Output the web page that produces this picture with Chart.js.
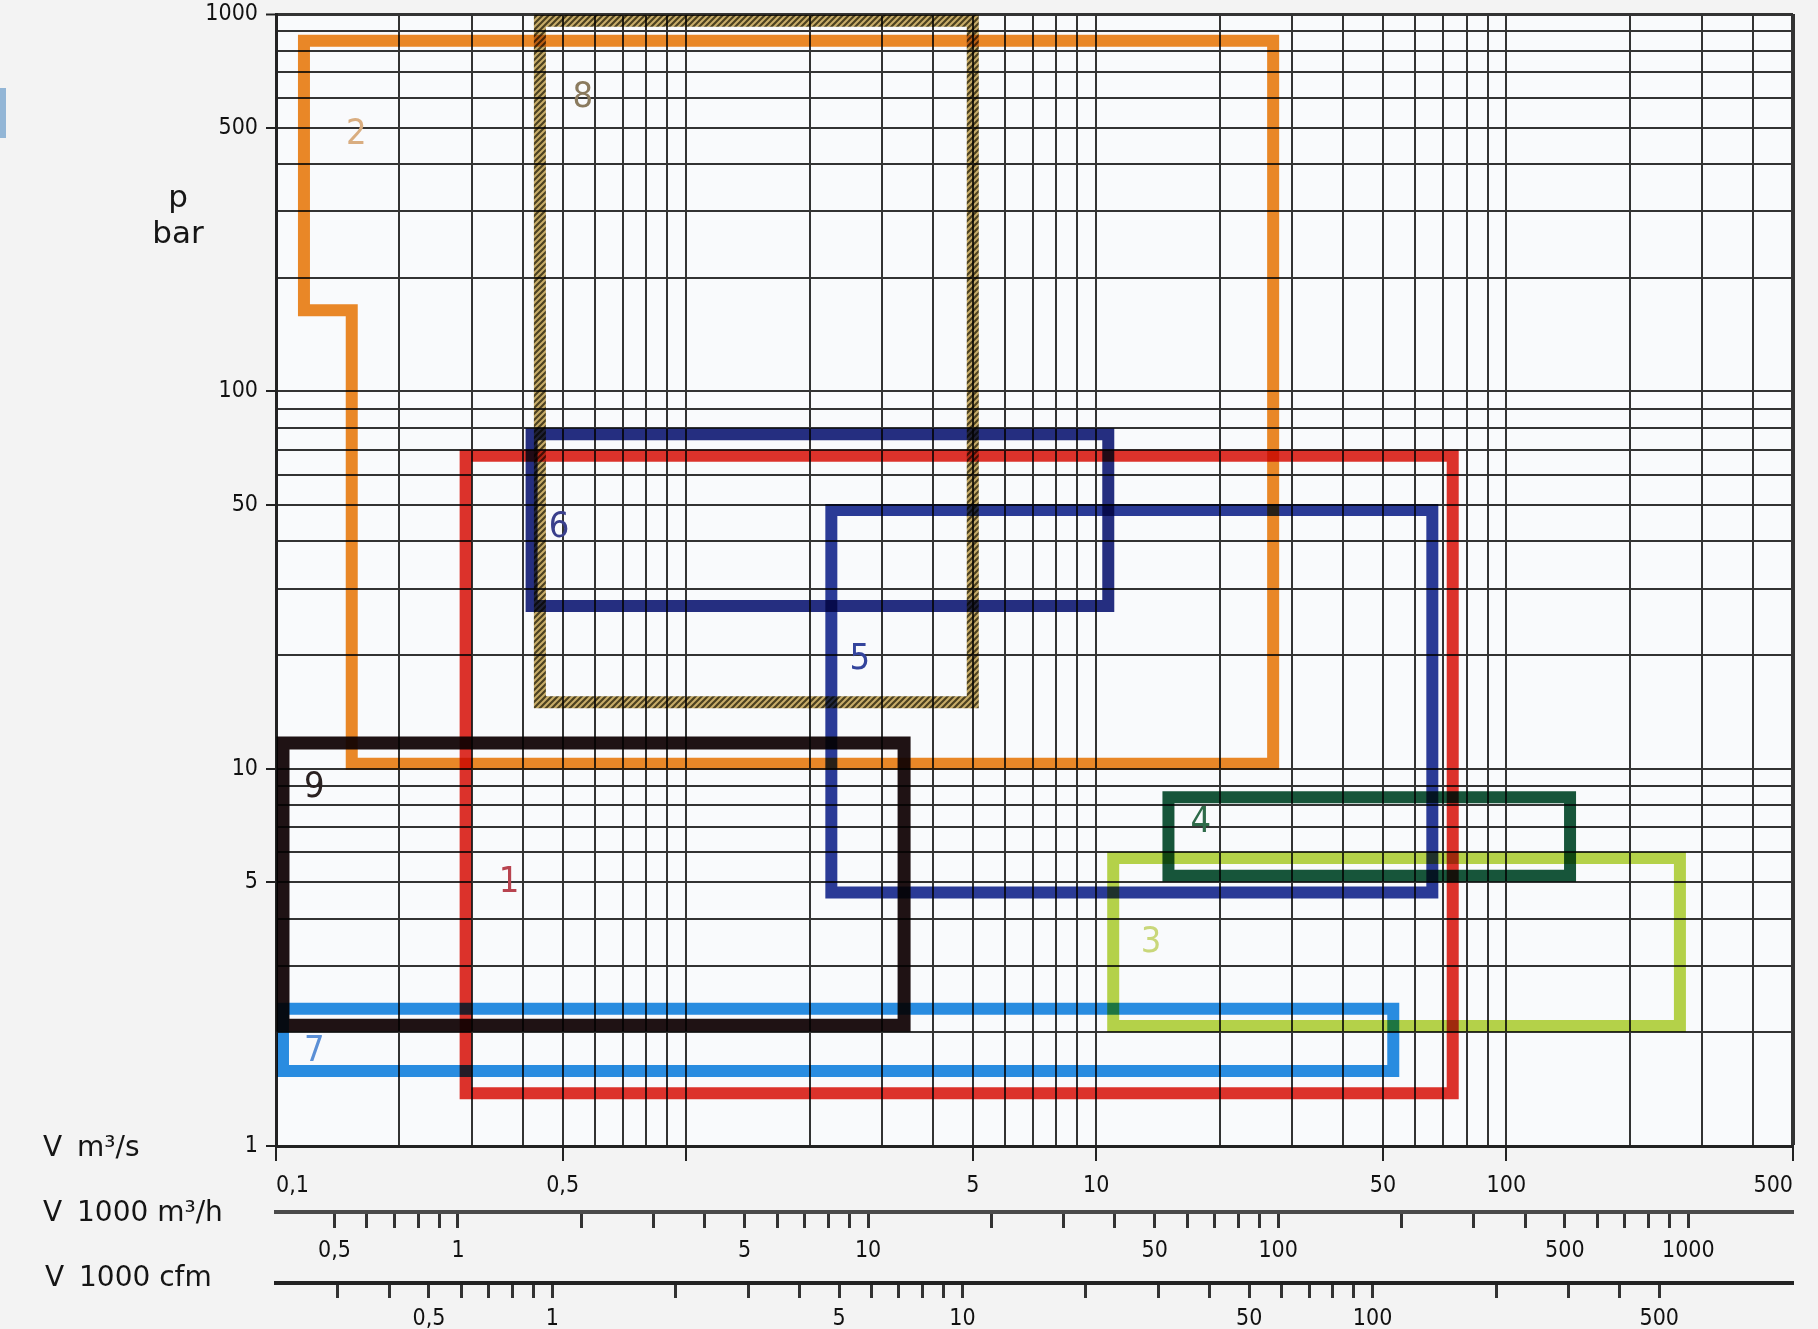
<!DOCTYPE html>
<html>
<head>
<meta charset="utf-8">
<title>Kompressoren – Einsatzbereiche</title>
<script src="https://cdn.jsdelivr.net/npm/chart.js@4.4.1/dist/chart.umd.min.js"></script>
<style>
  html, body { margin: 0; padding: 0; background: #f3f3f3; }
  #wrap { position: relative; width: 1818px; height: 1329px; }
  canvas { display: block; }
  #tab { position: absolute; left: 0; top: 88px; width: 6px; height: 50px; background: #93b6d6; }
</style>
</head>
<body>
<div id="wrap">
  <canvas id="chart" width="1818" height="1329"></canvas>
  <div id="tab"></div>
</div>
<script>
// ---- axis values -------------------------------------------------------
// volume flow in m³/s (main scale, grid lines at every 1..9 step)
const flowTicks = [0.1, 0.2, 0.3, 0.4, 0.5, 0.6, 0.7, 0.8, 0.9,
                   1, 2, 3, 4, 5, 6, 7, 8, 9,
                   10, 20, 30, 40, 50, 60, 70, 80, 90,
                   100, 200, 300, 400, 500];
const flowMarks  = [0.1, 0.5, 1, 5, 10, 50, 100, 500];
const flowLabels = [0.1, 0.5, 5, 10, 50, 100, 500];

// pressure in bar
const pressureTicks = [1, 2, 3, 4, 5, 6, 7, 8, 9,
                       10, 20, 30, 40, 50, 60, 70, 80, 90,
                       100, 200, 300, 400, 500, 600, 700, 800, 900, 1000];
const pressureLabels = [1, 5, 10, 50, 100, 500, 1000];

// volume flow in 1000 m³/h
const m3hTicks = [0.5, 0.6, 0.7, 0.8, 0.9,
                  1, 2, 3, 4, 5, 6, 7, 8, 9,
                  10, 20, 30, 40, 50, 60, 70, 80, 90,
                  100, 200, 300, 400, 500, 600, 700, 800, 900, 1000];
const m3hLabels = [0.5, 1, 5, 10, 50, 100, 500, 1000];

// volume flow in 1000 cfm
const cfmTicks = [0.3, 0.4, 0.5, 0.6, 0.7, 0.8, 0.9,
                  1, 2, 3, 4, 5, 6, 7, 8, 9,
                  10, 20, 30, 40, 50, 60, 70, 80, 90,
                  100, 200, 300, 400, 500];
const cfmLabels = [0.5, 1, 5, 10, 50, 100, 500];

// unit conversions relative to m³/s
const M3H_PER_M3S = 3.6;              // 1000 m³/h per m³/s
const CFM_PER_M3S = 1 / 0.4719474;    // 1000 cfm per m³/s
const FLOW_MIN = 0.1, FLOW_MAX = 500;

// ---- compressor ranges (flow m³/s, pressure bar) ----------------------
const zone1Flow = [0.29, 74];    const zone1Pressure = [1.38, 67.5];
const zone2Flow = [0.117, 0.153, 27]; const zone2Pressure = [10.3, 164, 850];
const zone3Flow = [11, 265];     const zone3Pressure = [2.08, 5.8];
const zone4Flow = [15, 143];     const zone4Pressure = [5.2, 8.4];
const zone5Flow = [2.26, 66];    const zone5Pressure = [4.7, 48.5];
const zone6Flow = [0.42, 10.7];  const zone6Pressure = [27, 77];
const zone7Flow = [0.104, 53];   const zone7Pressure = [1.58, 2.31];
const zone8Flow = [0.44, 5];     const zone8Pressure = [15, 960];
const zone9Flow = [0.104, 3.4];  const zone9Pressure = [2.09, 11.7];

// number tags placed inside each range
const zoneNames     = ['1', '2', '3', '4', '5', '6', '7', '8', '9'];
const labelFlow     = [0.37, 0.157, 13.6, 18, 2.65, 0.49, 0.124, 0.56, 0.124];
const labelPressure = [5.0, 480, 3.45, 7.2, 19.5, 43.5, 1.78, 600, 8.9];
const labelColors   = ['#b8434f', '#d9ad80', '#c9d77a', '#2f6b4a', '#34449c',
                       '#3a3f8c', '#5b8fd6', '#8a7a5e', '#2a2020'];

// ---- helpers ---------------------------------------------------------
const fmt = v => String(v).replace('.', ',');

// closed outline of a rectangle; the first edge is repeated so every corner is mitred
function rectPath(fx, py) {
  const pts = [
    {x: fx[0], y: py[1]}, {x: fx[1], y: py[1]},
    {x: fx[1], y: py[0]}, {x: fx[0], y: py[0]}
  ];
  return pts.concat([pts[0], pts[1]]);
}

// stepped outline of range 2
function stepPath(fx, py) {
  const pts = [
    {x: fx[0], y: py[2]}, {x: fx[2], y: py[2]},
    {x: fx[2], y: py[0]}, {x: fx[1], y: py[0]},
    {x: fx[1], y: py[1]}, {x: fx[0], y: py[1]}
  ];
  return pts.concat([pts[0], pts[1]]);
}

const canvas = document.getElementById('chart');
const ctx = canvas.getContext('2d');

// hatched stroke for range 8
function hatch() {
  const p = document.createElement('canvas');
  p.width = 6; p.height = 6;
  const g = p.getContext('2d');
  g.fillStyle = '#cdb06a';
  g.fillRect(0, 0, 6, 6);
  g.strokeStyle = '#4e4220';
  g.lineWidth = 2.2;
  g.beginPath();
  g.moveTo(0, 6); g.lineTo(6, 0);
  g.moveTo(-3, 3); g.lineTo(3, -3);
  g.moveTo(3, 9); g.lineTo(9, 3);
  g.stroke();
  return ctx.createPattern(p, 'repeat');
}

function band(data, color, width) {
  return {
    data, borderColor: color, borderWidth: width || 12,
    showLine: true, fill: false, tension: 0,
    pointRadius: 0, pointHoverRadius: 0,
    borderJoinStyle: 'miter', borderCapStyle: 'butt'
  };
}

const labelFont = "'Liberation Sans Narrow', 'DejaVu Sans Condensed', 'DejaVu Sans', sans-serif";
const titleFont = "'DejaVu Sans', sans-serif";
const GRID = '#333333';

// ---- plugins -----------------------------------------------------------
const paper = {
  id: 'paper',
  beforeDraw(chart) {
    const {ctx, chartArea: a} = chart;
    ctx.save();
    ctx.fillStyle = '#f9fafc';
    ctx.fillRect(a.left, a.top, a.right - a.left, a.bottom - a.top);
    ctx.restore();
  }
};

// overlapping inks darken each other like print
const inkBlend = {
  id: 'inkBlend',
  beforeDatasetsDraw(chart) { chart.ctx.save(); chart.ctx.globalCompositeOperation = 'multiply'; },
  afterDatasetsDraw(chart) { chart.ctx.restore(); }
};

const zoneTags = {
  id: 'zoneTags',
  afterDatasetsDraw(chart) {
    const {ctx, scales: {x, y}} = chart;
    ctx.save();
    ctx.font = '36px ' + labelFont;
    ctx.textAlign = 'center';
    ctx.textBaseline = 'middle';
    zoneNames.forEach((n, i) => {
      ctx.fillStyle = labelColors[i];
      ctx.fillText(n, x.getPixelForValue(labelFlow[i]), y.getPixelForValue(labelPressure[i]));
    });
    ctx.restore();
  }
};

const axisTitles = {
  id: 'axisTitles',
  afterDraw(chart) {
    const {ctx, scales} = chart;
    ctx.save();
    ctx.fillStyle = '#151515';
    ctx.font = '28px ' + titleFont;
    ctx.textBaseline = 'middle';
    ctx.textAlign = 'left';
    const rows = [
      ['V', 'm³/s', scales.x.top + 3, 43],
      ['V', '1000 m³/h', scales.x2.top + 2, 43],
      ['V', '1000 cfm', scales.x3.top - 4, 45]
    ];
    rows.forEach(([v, unit, yy, xx]) => {
      ctx.fillText(v, xx, yy);
      ctx.fillText(unit, xx + 34, yy);
    });
    ctx.textAlign = 'center';
    ctx.font = '31px ' + titleFont;
    ctx.fillText('p', 178, 199);
    ctx.fillText('bar', 178, 235);
    ctx.restore();
  }
};

// ---- scales ------------------------------------------------------------
function setTicks(list) {
  return scale => { scale.ticks = list.map(v => ({value: v})); };
}

const tickFont = {family: labelFont, size: 23};

const scales = {
  x: {
    type: 'logarithmic', axis: 'x', position: 'bottom', weight: 0,
    min: FLOW_MIN, max: FLOW_MAX,
    afterBuildTicks: setTicks(flowTicks),
    afterFit: s => { s.height = 66; },
    ticks: {
      autoSkip: false, maxRotation: 0, align: 'inner', padding: 11,
      color: '#111', font: tickFont,
      callback: v => flowLabels.includes(v) ? fmt(v) : ''
    },
    grid: {
      color: GRID,
      lineWidth: c => (c.tick && c.tick.value === FLOW_MAX) ? 4 : 2,
      drawTicks: true, tickLength: 15, tickWidth: 2,
      tickColor: c => flowMarks.includes(c.tick.value) ? '#222' : 'rgba(0,0,0,0)'
    },
    border: {color: '#222', width: 3}
  },
  x2: {
    type: 'logarithmic', axis: 'x', position: 'bottom', weight: 1,
    min: FLOW_MIN * M3H_PER_M3S, max: FLOW_MAX * M3H_PER_M3S,
    afterBuildTicks: setTicks(m3hTicks),
    afterFit: s => { s.height = 71; },
    ticks: {
      autoSkip: false, maxRotation: 0, padding: 9,
      color: '#111', font: tickFont,
      callback: v => m3hLabels.includes(v) ? fmt(v) : ''
    },
    grid: {drawOnChartArea: false, drawTicks: true, tickLength: 16, tickWidth: 3, tickColor: '#333'},
    border: {color: '#4a4a4a', width: 4}
  },
  x3: {
    type: 'logarithmic', axis: 'x', position: 'bottom', weight: 2,
    min: FLOW_MIN * CFM_PER_M3S, max: FLOW_MAX * CFM_PER_M3S,
    afterBuildTicks: setTicks(cfmTicks),
    afterFit: s => { s.height = 46; },
    ticks: {
      autoSkip: false, maxRotation: 0, padding: 7,
      color: '#111', font: tickFont,
      callback: v => cfmLabels.includes(v) ? fmt(v) : ''
    },
    grid: {drawOnChartArea: false, drawTicks: true, tickLength: 15, tickWidth: 3, tickColor: '#333'},
    border: {color: '#222', width: 4}
  },
  y: {
    type: 'logarithmic', axis: 'y', position: 'left',
    min: 1, max: 1000,
    afterBuildTicks: setTicks(pressureTicks),
    // fixed width; the top label may overhang the plot edge
    afterFit: s => { s.width = 276; s.paddingTop = 0; s.paddingBottom = 0; },
    ticks: {
      autoSkip: false, padding: 8,
      color: '#111', font: tickFont,
      callback: v => pressureLabels.includes(v) ? String(v) : ''
    },
    grid: {
      color: GRID,
      lineWidth: c => (c.tick && c.tick.value === 1000) ? 3 : 2,
      drawTicks: true, tickLength: 10, tickWidth: 2,
      tickColor: c => pressureLabels.includes(c.tick.value) ? '#222' : 'rgba(0,0,0,0)'
    },
    border: {color: '#222', width: 3}
  }
};

new Chart(ctx, {
  type: 'scatter',
  data: {
    datasets: [
      band(rectPath(zone7Flow, zone7Pressure), '#2a8fe3'),
      band(rectPath(zone3Flow, zone3Pressure), '#b9d54a'),
      band(rectPath(zone4Flow, zone4Pressure), '#17573a'),
      band(rectPath(zone1Flow, zone1Pressure), '#e2332b'),
      band(stepPath(zone2Flow, zone2Pressure), '#ef8a27'),
      band(rectPath(zone5Flow, zone5Pressure), '#2b3b98'),
      band(rectPath(zone6Flow, zone6Pressure), '#262f82'),
      band(rectPath(zone8Flow, zone8Pressure), hatch()),
      band(rectPath(zone9Flow, zone9Pressure), '#1f1214', 13)
    ]
  },
  options: {
    responsive: false,
    animation: false,
    devicePixelRatio: 1,
    layout: {padding: {top: 14, right: 25, bottom: 0, left: 0}},
    plugins: {legend: {display: false}, tooltip: {enabled: false}},
    scales
  },
  plugins: [paper, inkBlend, zoneTags, axisTitles]
});
</script>
</body>
</html>
